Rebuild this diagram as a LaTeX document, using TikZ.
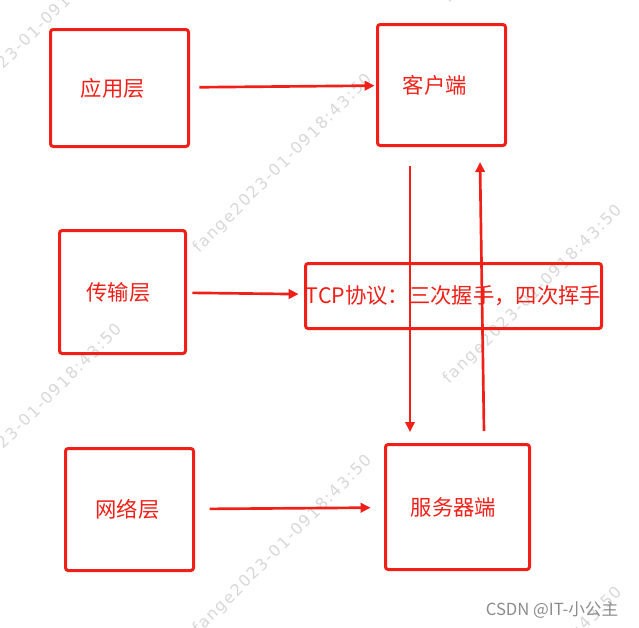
\documentclass[tikz,border=0pt]{standalone}
\usepackage{fontspec}
\setmainfont{Noto Sans CJK SC}
\newfontfamily\wmfont[LetterSpace=10]{DejaVu Sans}
\usetikzlibrary{arrows.meta}
\definecolor{boxred}{RGB}{240,32,24}
\definecolor{wmgray}{RGB}{216,216,216}
\definecolor{sigray}{RGB}{140,140,140}
\tikzset{
  layer/.style={draw=boxred, line width=2.25pt, rounded corners=2pt,
    text=boxred, inner sep=0pt, font=\fontsize{16pt}{18pt}\selectfont},
  flow/.style={draw=boxred, line width=2pt,
    -{Triangle[length=7.5pt,width=7pt]}},
  wmtext/.style={text=wmgray, rotate=45, inner sep=0pt,
    font=\wmfont\fontsize{12pt}{14pt}\selectfont},
}
\begin{document}
\begin{tikzpicture}[x=0.75pt,y=-0.75pt]
  \path[use as bounding box, fill=white] (0,0) rectangle (639,628);
  % watermark
  \begin{scope}
    \clip (0,0) rectangle (639,628);
    \node[wmtext] (wm1) at (33,34) {fange2023-01-0918:43:50};
    \node[wmtext] (wm2) at (33,414) {fange2023-01-0918:43:50};
    \node[wmtext] (wm3) at (283,164) {fange2023-01-0918:43:50};
    \node[wmtext] (wm4) at (533,-86) {fange2023-01-0918:43:50};
    \node[wmtext] (wm5) at (283,545) {fange2023-01-0918:43:50};
    \node[wmtext] (wm6) at (533,295) {fange2023-01-0918:43:50};
    \node[wmtext] (wm7) at (533,677) {fange2023-01-0918:43:50};
  \end{scope}
  % layers and ends
  \node[layer, minimum width=103.5pt, minimum height=87.75pt] (app) at (119.5,88) {\hspace*{-10pt}应用层};
  \node[layer, minimum width=96pt, minimum height=90.75pt] (client) at (441.5,85) {\hspace*{-10pt}客户端};
  \node[layer, minimum width=94.5pt, minimum height=92.25pt] (trans) at (122.5,292) {\hspace*{-6pt}传输层};
  \node[layer, minimum width=222pt, minimum height=48.75pt] (tcp) at (453.5,296) {TCP协议：三次握手，四次挥手};
  \node[layer, minimum width=96pt, minimum height=91.5pt] (net) at (129.5,509.5) {\hspace*{-3pt}网络层};
  \node[layer, minimum width=108pt, minimum height=93.75pt] (server) at (457.5,507) {\hspace*{-6pt}服务器端};
  \coordinate (down1) at (410,166);
  \coordinate (down2) at (410,432);
  \coordinate (up1) at (484,431);
  \coordinate (up2) at (480,162);
  \draw[flow, shorten <=7pt, shorten >=1pt] (app) -- (client);
  \draw[flow, shorten <=4pt, shorten >=4pt] (trans) -- (tcp);
  \draw[flow, shorten <=11pt, shorten >=10pt] (net) -- (server);
  \draw[flow] (down1) -- (down2);
  \draw[flow] (up1) -- (up2);
  \node[text=sigray, font=\fontsize{12.5pt}{14pt}\selectfont, anchor=east] (sign) at (623,610) {CSDN @IT-小公主};
\end{tikzpicture}
\end{document}
